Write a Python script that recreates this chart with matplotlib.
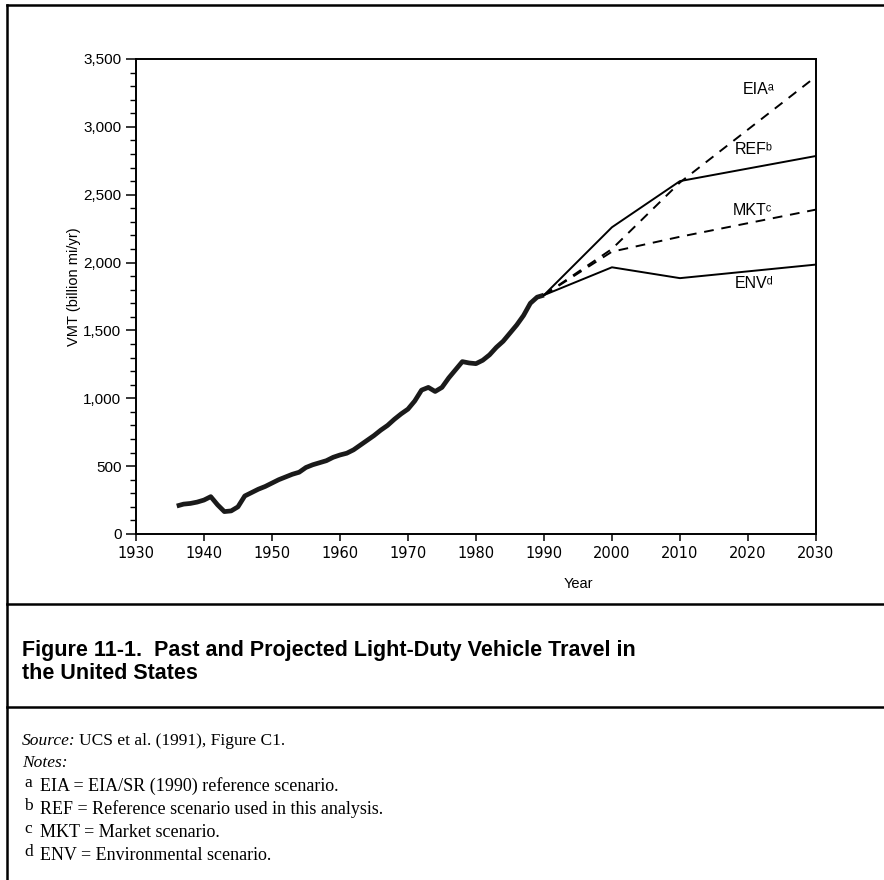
import numpy as np
import matplotlib.pyplot as plt
from matplotlib.lines import Line2D
from matplotlib.ticker import MultipleLocator, FuncFormatter

# historical VMT (billion mi/yr)
hist_years = [1936, 1937, 1938, 1939, 1940, 1941, 1942, 1943, 1944, 1945,
              1946, 1947, 1948, 1949, 1950, 1951, 1952, 1953, 1954, 1955,
              1956, 1957, 1958, 1959, 1960, 1961, 1962, 1963, 1964, 1965,
              1966, 1967, 1968, 1969, 1970, 1971, 1972, 1973, 1974, 1975,
              1976, 1977, 1978, 1979, 1980, 1981, 1982, 1983, 1984, 1985,
              1986, 1987, 1988, 1989, 1990]
hist_vmt = [206, 220, 225, 235, 250, 275, 215, 165, 170, 200,
            280, 305, 330, 350, 375, 400, 420, 440, 455, 490,
            510, 525, 540, 565, 582, 595, 620, 655, 690, 725,
            765, 800, 845, 885, 920, 980, 1060, 1080, 1050, 1080,
            1150, 1210, 1270, 1260, 1255, 1280, 1320, 1375, 1420, 1480,
            1540, 1610, 1700, 1745, 1760]

# projections
proj_years = [1990, 2000, 2010, 2030]
eia = [1760, 2100, 2590, 3370]
ref = [1760, 2260, 2600, 2785]
mkt = [1760, 2080, 2190, 2390]
env = [1760, 1965, 1885, 1985]

fig = plt.figure(figsize=(8.84, 8.8), dpi=100)
ax = fig.add_axes([0.1538, 0.3932, 0.7692, 0.5398])

ax.plot(hist_years, hist_vmt, color='#1a1a1a', lw=3.4, solid_capstyle='butt')
ax.plot(proj_years, ref, color='black', lw=1.4)
ax.plot(proj_years, env, color='black', lw=1.4)
ax.plot(proj_years, eia, color='black', lw=1.4, ls=(0, (5, 4)))
ax.plot(proj_years, mkt, color='black', lw=1.4, ls=(0, (5, 4)))

lab_font = ['Liberation Sans', 'DejaVu Sans']
ax.text(2021.5, 3272, 'EIAᵃ', fontsize=11.5, family=lab_font, ha='center', va='center')
ax.text(2020.9, 2830, 'REFᵇ', fontsize=11.5, family=lab_font, ha='center', va='center')
ax.text(2020.6, 2380, 'MKTᶜ', fontsize=11.5, family=lab_font, ha='center', va='center')
ax.text(2020.9, 1842, 'ENVᵈ', fontsize=11.5, family=lab_font, ha='center', va='center')

ax.set_xlim(1930, 2030)
ax.set_ylim(0, 3500)
ax.xaxis.set_major_locator(MultipleLocator(10))
ax.yaxis.set_major_locator(MultipleLocator(500))
ax.yaxis.set_minor_locator(MultipleLocator(100))
ax.yaxis.set_major_formatter(FuncFormatter(lambda v, p: f'{int(v):,}'))

for s in ax.spines.values():
    s.set_linewidth(1.4)
ax.tick_params(axis='y', which='major', length=7, width=1.1, labelsize=11)
ax.tick_params(axis='y', which='minor', length=4, width=1.0)
ax.tick_params(axis='x', which='major', length=5, width=1.1, labelsize=10.5)
for t in ax.get_yticklabels():
    t.set_family('Liberation Sans')
for t in ax.get_xticklabels():
    t.set_family('DejaVu Sans')

ax.set_ylabel('VMT (billion mi/yr)', fontsize=10.5, family='Liberation Sans')
ax.yaxis.set_label_coords(-0.081, 0.52)
ax.set_xlabel('Year', fontsize=10.5, family='Liberation Sans')
ax.xaxis.set_label_coords(0.65, -0.09)

# page frame lines
def fig_line(x0, y0, x1, y1):
    fig.add_artist(Line2D([x0 / 884, x1 / 884], [1 - y0 / 880, 1 - y1 / 880],
                          transform=fig.transFigure, color='black', lw=1.8))

fig_line(7, 5, 884, 5)
fig_line(7, 5, 7, 880)
fig_line(7, 604, 884, 604)
fig_line(7, 707, 884, 707)

# caption
fig.text(22 / 884, 1 - 650 / 880,
         'Figure 11-1.  Past and Projected Light-Duty Vehicle Travel in',
         fontsize=15.5, weight='bold', family='Liberation Sans', va='center')
fig.text(22 / 884, 1 - 673 / 880, 'the United States',
         fontsize=15.5, weight='bold', family='Liberation Sans', va='center')

serif = 'Liberation Serif'
fig.text(22 / 884, 1 - 741 / 880, 'Source:', fontsize=12.5, family=serif,
         style='italic', va='center')
fig.text(79 / 884, 1 - 741 / 880, 'UCS et al. (1991), Figure C1.', fontsize=12.5,
         family=serif, va='center')
fig.text(22 / 884, 1 - 763 / 880, 'Notes:', fontsize=12.5, family=serif,
         style='italic', va='center')

note_letters = ['a', 'b', 'c', 'd']
note_texts = ['EIA = EIA/SR (1990) reference scenario.',
              'REF = Reference scenario used in this analysis.',
              'MKT = Market scenario.',
              'ENV = Environmental scenario.']
note_y = [786, 809, 832, 855]
for letter, txt, y in zip(note_letters, note_texts, note_y):
    fig.text(24 / 884, 1 - (y - 3) / 880, letter, fontsize=12.5, family=serif, va='center')
    fig.text(40 / 884, 1 - y / 880, txt, fontsize=13, family=serif, va='center')

fig.savefig('out.png', dpi=100)
